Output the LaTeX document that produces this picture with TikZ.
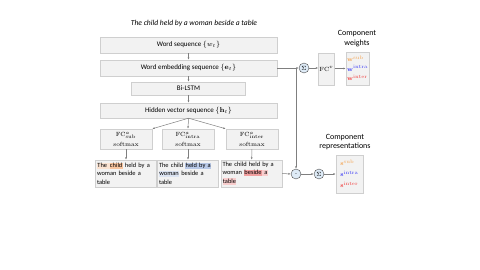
\documentclass[tikz,border=0pt]{standalone}
\usepackage{amsmath}
\usepackage[no-math]{fontspec}
\setmainfont{Carlito}
\usepackage{xcolor}
\usetikzlibrary{positioning,arrows.meta,calc}
\definecolor{uFill}{HTML}{F2F2F2}
\definecolor{uEdge}{HTML}{CFCFCF}
\definecolor{uArrow}{HTML}{7F7F7F}
\definecolor{uOp}{HTML}{DEEBF7}
\definecolor{uSub}{HTML}{F4A24E}
\definecolor{uIntra}{HTML}{3B3BF5}
\definecolor{uInter}{HTML}{F03A3A}
\definecolor{hlSubLt}{HTML}{FBE3D2}
\definecolor{hlSub}{HTML}{F7C49F}
\definecolor{hlIntraLt}{HTML}{DCE4F2}
\definecolor{hlIntra}{HTML}{B8C8E6}
\definecolor{hlInterLt}{HTML}{F9CDCD}
\definecolor{hlInter}{HTML}{F2A0A0}
\tikzset{
  blk/.style={draw=uEdge, fill=uFill, align=center, inner sep=1pt,
              font=\fontsize{7}{8.5}\selectfont},
  seq/.style={blk, minimum width=177pt, minimum height=16pt},
  head/.style={blk, minimum width=52pt, minimum height=20pt,
               font=\fontsize{5.6}{7}\selectfont},
  sent/.style={blk, minimum width=61pt, minimum height=27pt, text width=58pt,
               align=left, font=\fontsize{6.4}{8.3}\selectfont},
  op/.style={circle, draw=black!70, fill=uOp, minimum size=10pt, inner sep=0pt,
             font=\fontsize{6}{6}\selectfont},
  flow/.style={-{Latex[length=2.5pt,width=2pt]}, draw=uArrow, line width=0.5pt},
  lbl/.style={align=center, inner sep=1pt, font=\fontsize{8}{9.5}\selectfont},
}
\newcommand{\hlw}[2]{{\setlength{\fboxsep}{0.4pt}\colorbox{#1}{\vphantom{Tg}#2}}}

\begin{document}
\begin{tikzpicture}[x=1pt, y=-1pt]
\useasboundingbox (0,0) rectangle (480,270);

%% ── the encoder column ───────────────────────────────────────────────────
\node[inner sep=0pt, font=\fontsize{7.6}{8}\selectfont\itshape] (title) at (194,23)
  {The child held by a woman beside a table};
\node[seq] (words) at (188.5,45) {Word sequence $\{w_t\}$};
\node[seq] (embed) at (188.5,68) {Word embedding sequence $\{\mathbf{e}_t\}$};
\node[blk, minimum width=114pt, minimum height=13pt] (lstm) at (188.5,88.5) {Bi-LSTM};
\node[seq, minimum height=15pt] (hidden) at (188.5,110.5)
  {Hidden vector sequence $\{\mathbf{h}_t\}$};

\draw[flow] (words) -- (embed);
\draw[flow] (embed) -- (lstm);
\draw[flow] (lstm) -- (hidden);

%% ── one attention head per component ─────────────────────────────────────
\node[head] (fcsub) at (126,139)
  {$\mathrm{FC}^{a}_{\mathrm{sub}}$\\[2.5pt]$\mathrm{softmax}$};
\node[head] (fcintra) at (188,139)
  {$\mathrm{FC}^{a}_{\mathrm{intra}}$\\[2.5pt]$\mathrm{softmax}$};
\node[head] (fcinter) at (252,139)
  {$\mathrm{FC}^{a}_{\mathrm{inter}}$\\[2.5pt]$\mathrm{softmax}$};

\draw[flow] (hidden.south) -- (fcsub.north east);
\draw[flow] (hidden.south) -- (fcintra.north);
\draw[flow] (hidden.south) -- (fcinter.north west);

\node[sent] (txtsub) at (126,173.5)
  {\hlw{hlSubLt}{The\ }\hlw{hlSub}{child} held by a\\ woman beside a\\ table};
\node[sent] (txtintra) at (188,173.5)
  {The child \hlw{hlIntra}{held by a}\\ \hlw{hlIntraLt}{woman} beside a\\ table};
\node[sent] (txtinter) at (251.5,173.5)
  {The child held by a\\ woman \hlw{hlInter}{beside}\hlw{hlInterLt}{\ a}\\
   \hlw{hlInterLt}{table}};

\draw[flow] (fcsub) -- (txtsub);
\draw[flow] (fcintra) -- (txtintra);
\draw[flow] (fcinter) -- (txtinter);

%% ── pooling into weights and representations ─────────────────────────────
\node[op] (sumw) at (304,68) {$\Sigma$};
\node[op] (prod) at (296,174) {$\boldsymbol{\cdot}$};
\node[op] (sums) at (319,174) {$\Sigma$};

\node[blk, minimum width=13pt, minimum height=32pt, font=\fontsize{6.5}{7}\selectfont]
  (fcv) at (326.5,69) {$\mathrm{FC}^{v}$};
\node[blk, minimum width=23pt, minimum height=33pt, align=left,
      font=\fontsize{6}{9.5}\selectfont] (weights) at (357.5,68.5)
  {\color{uSub}$\mathbf{w}^{\mathrm{sub}}$\\
   \color{uIntra}$\mathbf{w}^{\mathrm{intra}}$\\
   \color{uInter}$\mathbf{w}^{\mathrm{inter}}$};
\node[blk, minimum width=27pt, minimum height=38pt, align=left,
      font=\fontsize{6.5}{11}\selectfont] (reps) at (349.5,174)
  {\color{uSub}$\mathbf{s}^{\mathrm{sub}}$\\
   \color{uIntra}$\mathbf{s}^{\mathrm{intra}}$\\
   \color{uInter}$\mathbf{s}^{\mathrm{inter}}$};

\node[lbl] at (357,38.5) {Component\\weights};
\node[lbl] at (345,142) {Component\\representations};

\draw[flow] (embed.east) -- (sumw.west);
\draw[flow] (embed.east -| prod.north) -- (prod.north);
\draw[flow] (sumw) -- (sumw -| fcv.west);
\draw[flow] (fcv.east |- weights) -- (weights.west);
\draw[flow] (txtinter.east) -- (prod.west);
\draw[flow] (prod) -- (sums);
\draw[flow] (sums) -- (reps);

\end{tikzpicture}
\end{document}
